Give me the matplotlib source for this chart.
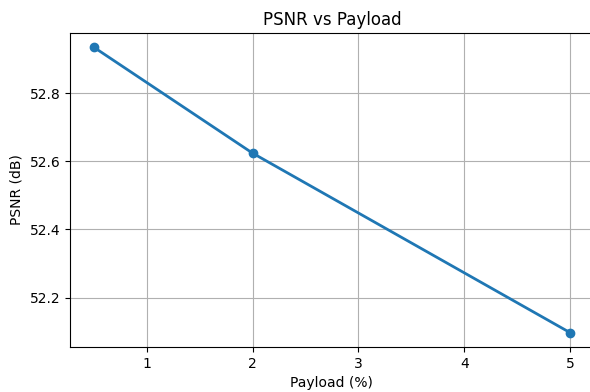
import matplotlib
matplotlib.use("Agg")
import matplotlib.pyplot as plt

# payload percentages and measured PSNR
payload = [0.5, 2, 5]
psnr = [52.935, 52.624, 52.097]

fig = plt.figure(figsize=(5.9, 3.92), dpi=100)
ax = fig.add_axes([0.1186, 0.115, 0.888, 0.801])

ax.plot(payload, psnr, marker='o', linewidth=2, color='#1f77b4')
ax.set_title('PSNR vs Payload')
ax.set_xlabel('Payload (%)')
ax.set_ylabel('PSNR (dB)')
ax.set_yticks([52.2, 52.4, 52.6, 52.8])
ax.grid(True)

fig.savefig('out.png', dpi=100)
